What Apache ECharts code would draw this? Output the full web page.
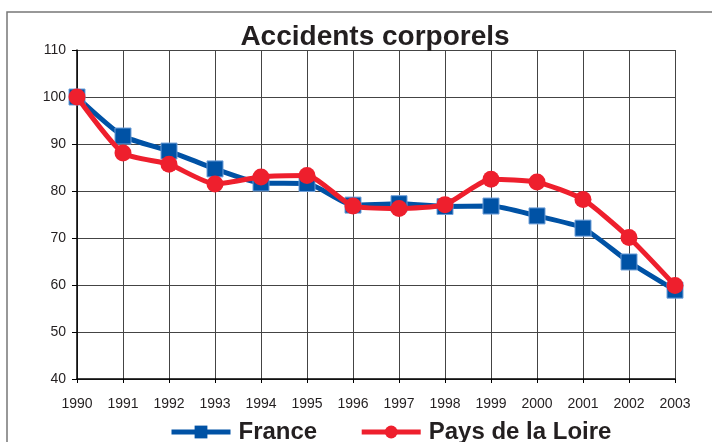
<!DOCTYPE html>
<html>
<head>
<meta charset="utf-8">
<script src="https://cdn.jsdelivr.net/npm/echarts@6/dist/echarts.min.js"></script>
</head>
<body style="margin: 0; background-color: #ffffff">
<div id="chart" style="width: 712px; height: 442px"></div>
<script>
// années et indices (base 100 en 1990)
const years = ["1990", "1991", "1992", "1993", "1994", "1995", "1996", "1997", "1998", "1999", "2000", "2001", "2002", "2003"];
const france = [100, 91.7, 88.5, 84.7, 81.7, 81.6, 77.0, 77.3, 76.7, 76.8, 74.7, 72.1, 64.9, 58.9];
const paysLoire = [100, 88.1, 85.7, 81.5, 83.0, 83.3, 76.8, 76.3, 77.1, 82.5, 81.9, 78.2, 70.1, 59.9];

const font = "Liberation Sans, Arial, sans-serif";
let myChart = echarts.init(document.getElementById("chart"));

let option = {
  backgroundColor: "#ffffff",
  animation: false,
  title: {
    text: "Accidents corporels",
    left: 370,
    textAlign: "center",
    top: 18,
    textStyle: {
      fontFamily: font,
      fontSize: 28,
      fontWeight: "bold",
      color: "#231f20",
    },
  },
  graphic: [
    {
      type: "rect",
      shape: { x: 7, y: 12, width: 800, height: 500 },
      style: { fill: "none", stroke: "#777", lineWidth: 1.5 },
    },
  ],
  legend: {
    left: 164,
    top: 415,
    itemWidth: 59,
    itemHeight: 16,
    itemGap: 42,
    lineStyle: { width: 5 },
    itemStyle: { borderWidth: 0 },
    textStyle: {
      fontFamily: font,
      fontSize: 24,
      fontWeight: "bold",
      color: "#231f20",
      lineHeight: 24,
      padding: [0, 0, 0, 3],
    },
    data: ["France", "Pays de la Loire"],
  },
  grid: {
    left: 77,
    right: 37,
    top: 50,
    bottom: 63,
  },
  xAxis: {
    type: "category",
    boundaryGap: false,
    data: years,
    axisLine: { lineStyle: { color: "#000", width: 1.5 } },
    axisTick: { show: true, length: 4, lineStyle: { color: "#000" } },
    axisLabel: {
      margin: 18,
      fontFamily: font,
      fontSize: 14,
      color: "#231f20",
    },
    splitLine: { show: true, lineStyle: { color: "#444", width: 1 } },
  },
  yAxis: {
    type: "value",
    min: 40,
    max: 110,
    interval: 10,
    axisLine: { show: true, lineStyle: { color: "#000", width: 1.5 } },
    axisTick: { show: true, length: 5, lineStyle: { color: "#000" } },
    axisLabel: {
      margin: 11,
      fontFamily: font,
      fontSize: 14,
      color: "#231f20",
    },
    splitLine: { show: true, lineStyle: { color: "#444", width: 1 } },
  },
  series: [
    {
      name: "France",
      type: "line",
      data: france,
      smooth: 0.2,
      symbol: "rect",
      symbolSize: 16,
      lineStyle: { color: "#0052a5", width: 5 },
      itemStyle: { color: "#0052a5", borderColor: "#6f9fd8", borderWidth: 1 },
      z: 2,
    },
    {
      name: "Pays de la Loire",
      type: "line",
      data: paysLoire,
      smooth: 0.2,
      symbol: "circle",
      symbolSize: 17,
      lineStyle: { color: "#ee1f2d", width: 5 },
      itemStyle: { color: "#ee1f2d" },
      z: 3,
    },
  ],
};

myChart.setOption(option);
</script>
</body>
</html>
